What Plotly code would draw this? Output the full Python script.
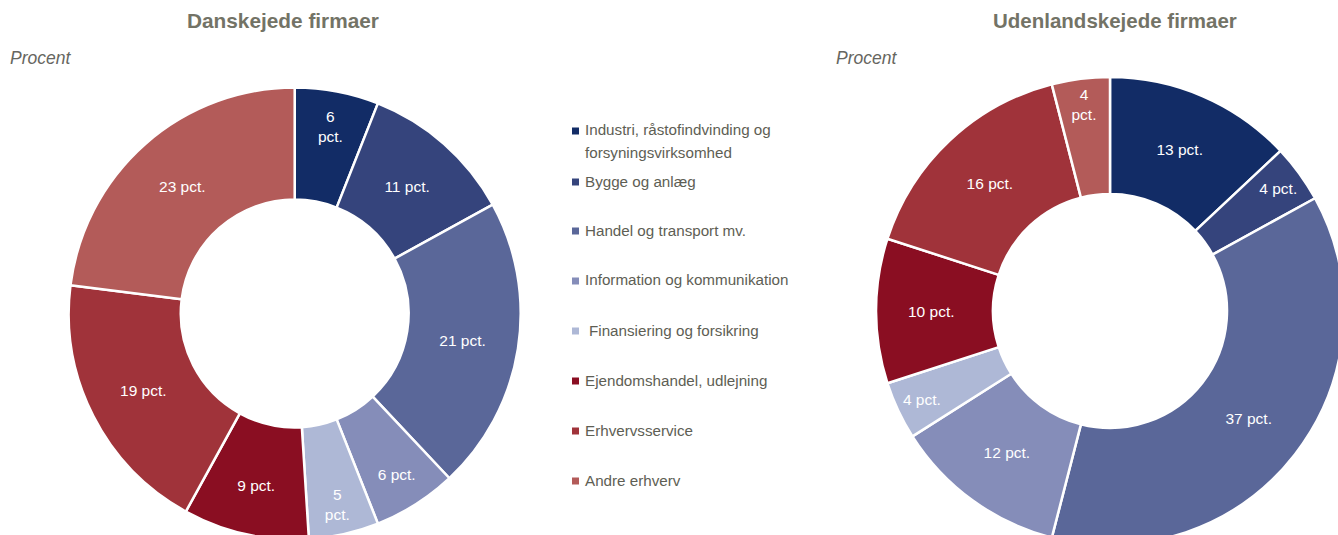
import plotly.graph_objects as go

# Sector shares (percent) for Danish-owned and foreign-owned firms
categories = [
    "Industri, råstofindvinding og<br>forsyningsvirksomhed",
    "Bygge og anlæg",
    "Handel og transport mv.",
    "Information og kommunikation",
    "Finansiering og forsikring",
    "Ejendomshandel, udlejning",
    "Erhvervsservice",
    "Andre erhverv",
]
danske_values = [6, 11, 21, 6, 5, 9, 19, 23]
udenlandske_values = [13, 4, 37, 12, 4, 10, 16, 4]

colors = ["#122c66", "#35447c", "#5a6799", "#858db9", "#aeb8d6",
          "#8a0e22", "#a0333a", "#b35b59"]

W, H = 1350, 550
TITLE_COLOR = "#737366"
TEXT_COLOR = "#5e5e54"
FONT = "Liberation Sans, Arial, sans-serif"


def px(x):
    return x / W


def py(y):
    return 1 - y / H


def domain(cx, cy, r):
    return dict(x=[px(cx - r), px(cx + r)], y=[py(cy + r), py(cy - r)])


def labels_for(values, wrapped):
    return [f"{v}<br>pct." if i in wrapped else f"{v} pct." for i, v in enumerate(values)]


fig = go.Figure()

fig.add_trace(go.Pie(
    labels=categories, values=danske_values, text=labels_for(danske_values, {0, 4}),
    textinfo="text", textposition="inside", insidetextorientation="horizontal",
    sort=False, direction="clockwise", rotation=0, hole=0.504,
    marker=dict(colors=colors, line=dict(color="white", width=2.5)),
    textfont=dict(family=FONT, size=15.5, color="white"),
    domain=domain(294.7, 313.5, 226), showlegend=False, hoverinfo="skip",
))

fig.add_trace(go.Pie(
    labels=categories, values=udenlandske_values, text=labels_for(udenlandske_values, {7}),
    textinfo="text", textposition="inside", insidetextorientation="horizontal",
    sort=False, direction="clockwise", rotation=0, hole=0.5,
    marker=dict(colors=colors, line=dict(color="white", width=2.5)),
    textfont=dict(family=FONT, size=15.5, color="white"),
    domain=domain(1110, 311, 234), showlegend=False, hoverinfo="skip",
))

annotations = [
    dict(text="<b>Danskejede firmaer</b>", x=px(282.5), y=py(20),
         font=dict(size=20.8, color=TITLE_COLOR), xanchor="center"),
    dict(text="<b>Udenlandskejede firmaer</b>", x=px(1115), y=py(20),
         font=dict(size=20.5, color=TITLE_COLOR), xanchor="center"),
    dict(text="<i>Procent</i>", x=px(8), y=py(58),
         font=dict(size=17.5, color="#666660"), xanchor="left"),
    dict(text="<i>Procent</i>", x=px(834), y=py(58),
         font=dict(size=17.5, color="#666660"), xanchor="left"),
]

# Legend drawn between the two donuts
legend_rows = [131, 182, 231, 281, 331, 381, 431, 481]
LINE_GAP = 22
shapes = []
for i, (name, color, yrow) in enumerate(zip(categories, colors, legend_rows)):
    shapes.append(dict(type="rect", xref="paper", yref="paper",
                       x0=px(572), x1=px(579), y0=py(yrow + 3.5), y1=py(yrow - 3.5),
                       fillcolor=color, line=dict(width=0)))
    tx = 587 if i == 4 else 583
    for k, line in enumerate(name.split("<br>")):
        annotations.append(dict(text=line, x=px(tx), y=py(yrow + k * LINE_GAP - 1),
                                xanchor="left", align="left",
                                font=dict(size=15.2, color=TEXT_COLOR)))

for a in annotations:
    a.setdefault("xref", "paper")
    a.setdefault("yref", "paper")
    a.setdefault("yanchor", "middle")
    a["showarrow"] = False
    a["font"].setdefault("family", FONT)

fig.update_layout(
    width=W, height=H,
    margin=dict(l=0, r=0, t=0, b=0),
    paper_bgcolor="white", plot_bgcolor="white",
    font=dict(family=FONT),
    uniformtext=dict(minsize=15.5, mode="show"),
    annotations=annotations, shapes=shapes,
)

fig.write_html(
    "out.html",
    post_script="document.documentElement.style.overflow='hidden';"
                "document.body.style.overflow='hidden';document.body.style.margin='0';",
)
